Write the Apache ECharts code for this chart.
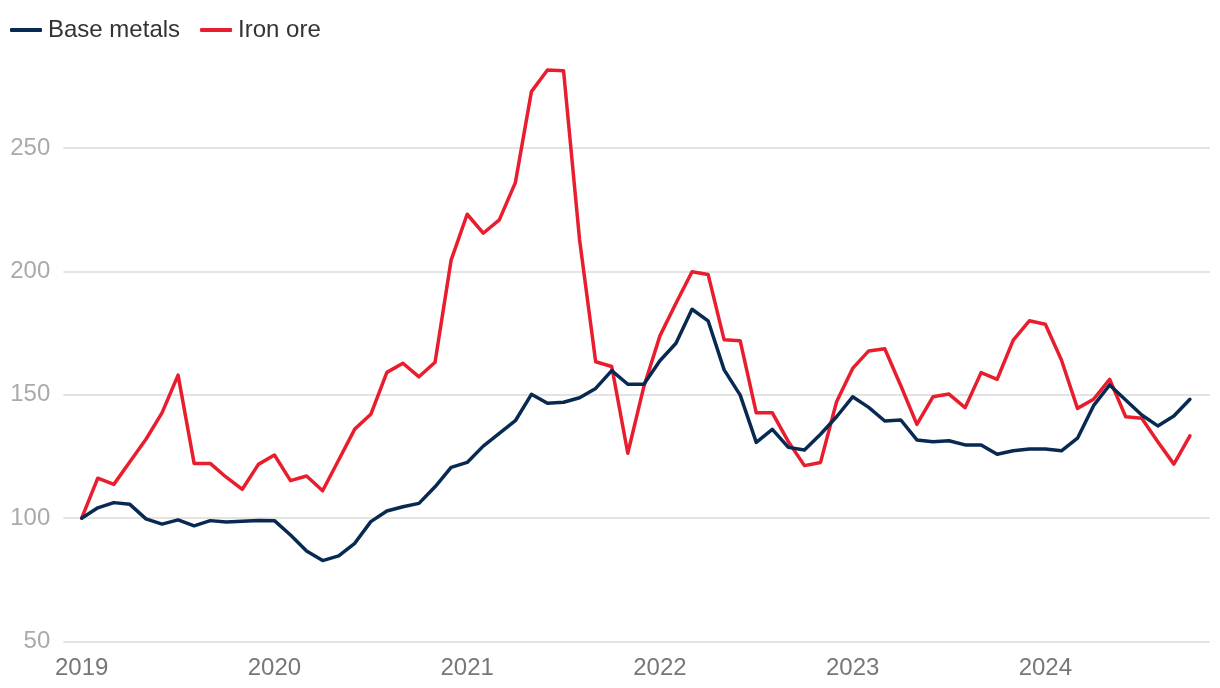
<!DOCTYPE html>
<html>
<head>
<meta charset="utf-8">
<script src="https://cdn.jsdelivr.net/npm/echarts@6/dist/echarts.min.js"></script>
<style>
html,body{margin:0;padding:0;background:#fff;}
#chart{width:1220px;height:688px;}
</style>
</head>
<body>
<div id="chart"></div>
<script>
// Monthly index, Jan 2019 = 100 (Jan 2019 .. Oct 2024)
const startYear = 2019;
const yearTicks = [0, 12, 24, 36, 48, 60];
const yTicks = [50, 100, 150, 200, 250];
const seriesNames = ['Base metals', 'Iron ore'];

const baseMetals = [
  100, 104.2, 106.3, 105.6, 99.7, 97.6, 99.3, 96.9, 99.0, 98.4, 98.7, 99.1,
  99.0, 93.2, 86.7, 82.8, 84.7, 89.8, 98.6, 102.9, 104.6, 106.0, 112.7, 120.6,
  122.6, 129.2, 134.4, 139.5, 150.2, 146.6, 147.0, 148.8, 152.6, 159.8, 154.3, 154.3,
  163.8, 170.9, 184.7, 180.0, 160.1, 149.9, 130.7, 136.0, 128.7, 127.6, 134.0, 141.1,
  149.2, 144.9, 139.4, 139.8, 131.7, 131.0, 131.4, 129.7, 129.7, 125.9, 127.3, 128.0,
  128.0, 127.3, 132.4, 145.6, 154.0, 147.9, 141.8, 137.4, 141.4, 148.2
];

const ironOre = [
  100, 116.2, 113.7, 122.9, 132.0, 142.7, 158.0, 122.2, 122.2, 116.6, 111.7, 121.8,
  125.6, 115.2, 117.1, 111.1, 123.6, 136.1, 142.1, 159.1, 162.8, 157.3, 163.2, 204.6,
  223.2, 215.5, 220.9, 236.0, 272.9, 281.7, 281.4, 212.8, 163.4, 161.5, 126.3, 153.3,
  173.9, 187.1, 199.9, 198.8, 172.3, 171.9, 142.7, 142.7, 131.0, 121.3, 122.6, 147.2,
  160.7, 167.8, 168.7, 153.7, 138.0, 149.2, 150.3, 144.8, 159.0, 156.3, 172.2, 180.0,
  178.6, 164.1, 144.5, 148.2, 156.3, 141.1, 140.5, 131.0, 121.9, 133.4
];

const toPairs = arr => arr.map((v, i) => [i, v]);

const chart = echarts.init(document.getElementById('chart'), null, {renderer: 'canvas'});
const FONT = '"Liberation Sans", Arial, Helvetica, sans-serif';

chart.setOption({
  animation: false,
  backgroundColor: '#ffffff',
  legend: {
    left: 10,
    top: 18,
    padding: 0,
    icon: 'roundRect',
    itemWidth: 32,
    itemHeight: 4,
    itemGap: 20,
    textStyle: {fontSize: 24, color: '#333333', fontFamily: FONT, padding: [0, 0, 0, 1]},
    data: seriesNames
  },
  grid: {left: 63.3, right: 10, top: 24.8, bottom: 46.5, containLabel: false},
  xAxis: {
    type: 'value',
    min: -1.146,
    max: 70.25,
    axisLine: {show: false},
    axisTick: {show: false},
    splitLine: {show: false},
    axisLabel: {
      customValues: yearTicks,
      formatter: v => String(startYear + Math.round(v / 12)),
      fontSize: 24,
      color: '#777777',
      fontFamily: FONT,
      margin: 15
    }
  },
  yAxis: {
    type: 'value',
    min: 50,
    max: 300,
    interval: 50,
    axisLine: {show: false},
    axisTick: {show: false},
    axisLabel: {
      showMaxLabel: false,
      fontSize: 24,
      color: '#aaaaaa',
      fontFamily: FONT,
      margin: 13
    },
    splitLine: {
      show: true,
      showMaxLine: false,
      lineStyle: {color: '#e4e4e4', width: 2}
    }
  },
  series: [
    {
      name: seriesNames[0],
      type: 'line',
      data: toPairs(baseMetals),
      symbol: 'none',
      color: '#082a52',
      lineStyle: {width: 3.5, color: '#082a52', join: 'round', cap: 'round'},
      z: 3
    },
    {
      name: seriesNames[1],
      type: 'line',
      data: toPairs(ironOre),
      symbol: 'none',
      color: '#e81e2e',
      lineStyle: {width: 3.5, color: '#e81e2e', join: 'round', cap: 'round'},
      z: 2
    }
  ]
});
</script>
</body>
</html>
